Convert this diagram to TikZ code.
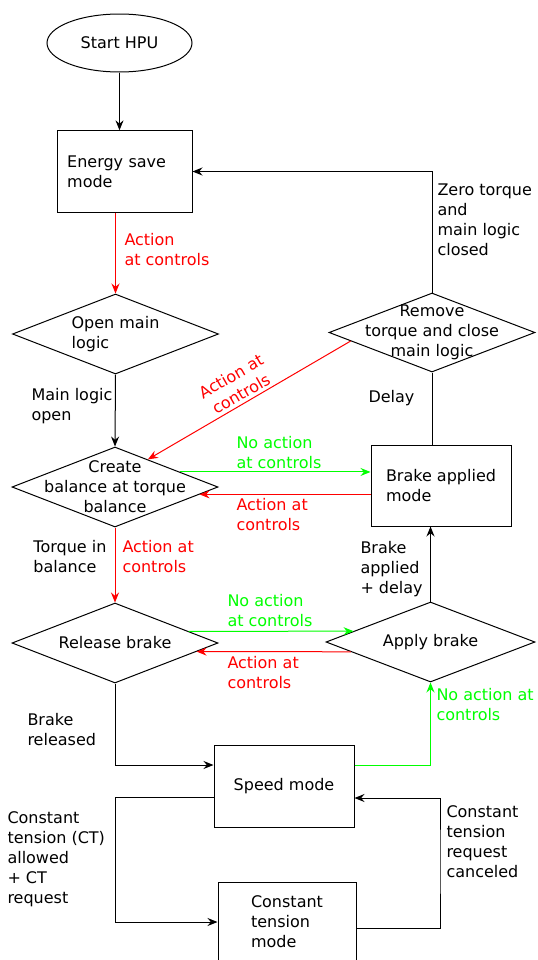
\documentclass[tikz,border=0pt]{standalone}
\usepackage{fontspec}
\setmainfont{DejaVu Sans}
\usetikzlibrary{arrows.meta, shapes.geometric}

\begin{document}
\begin{tikzpicture}[
        x=0.75pt, y=-0.75pt,
        font=\fontsize{12}{15}\selectfont,
        terminal/.style={ellipse, draw, minimum width=108.75pt, minimum height=43.5pt},
        mode/.style={rectangle, draw, align=left, minimum width=105pt, minimum height=61pt},
        decision/.style={diamond, draw, minimum width=154.5pt, minimum height=60pt, inner sep=0pt},
        dtext/.style={align=center, inner sep=0pt},
        note/.style={align=left, anchor=base west, inner sep=0pt},
        arrow/.style={->, >={Stealth[length=7.5pt, width=6pt, inset=2.5pt]}},
        line width=0.75pt
    ]
    \useasboundingbox (0,0) rectangle (537,960);

    % states and decisions
    \node[terminal] (start) at (119.5,43) {Start HPU};
    \node[mode, minimum width=101.25pt, text width=86pt] (energy) at (124.5,171.5) {Energy save\\mode};
    \node[decision] (open) at (115.5,334) {};
    \node[dtext, align=left] (open-t) at (open) {Open main\\logic};
    \node[decision] (create) at (115,487) {};
    \node[dtext] (create-t) at (create) {Create\\balance at torque\\balance};
    \node[decision, minimum height=59.25pt] (remove) at (432,332.5) {};
    \node[dtext] (remove-t) at (remove) {Remove\\torque and close\\main logic};
    \node[mode, minimum height=60.75pt] (brakeapp) at (441,485.5) {Brake applied\\mode};
    \node[decision] (release) at (115,643) {};
    \node[dtext] (release-t) at (release) {Release brake};
    \node[decision, minimum width=156.75pt] (apply) at (430.5,642) {};
    \node[dtext] (apply-t) at (apply) {Apply brake};
    \node[mode, minimum height=61.5pt] (speed) at (284,786) {Speed mode};
    \node[mode, minimum width=103.5pt, minimum height=60pt] (ct) at (287,922) {Constant\\tension\\mode};
    \coordinate (ctback) at (440,860);

    % transitions
    \draw[arrow] (start.south) -- (start.south |- energy.north);
    \draw[arrow, red] (open.north |- energy.south) -- (open.north);
    \draw[arrow] (open.south) -- (create.north);
    \draw[arrow] (remove.north) |- (energy.east);
    \draw (remove.south) -- (remove.south |- brakeapp.north);
    \draw[arrow, red] (remove.186) -- (create.40);
    \draw[arrow, green] (create.13) -- (create.13 -| brakeapp.west);
    \draw[arrow, red] (create.-5 -| brakeapp.west) -- (create.-5);
    \draw[arrow, red] (create.south) -- (release.north);
    \draw[arrow] (apply.north) -- (apply.north |- brakeapp.south);
    \draw[arrow, green] (release.9) -- (apply.172);
    \draw[arrow, red] (apply.187) -- (release.-6);
    \draw[arrow] (release.south) |- ([yshift=15.75pt]speed.west);
    \draw[arrow, green] ([yshift=15.75pt]speed.east) -| (apply.south);
    \draw[arrow] ([yshift=-8.25pt]speed.west) -| (release.south |- ct.west) -- (ct.west);
    \draw[arrow] ([yshift=-4.5pt]ct.east) -| (ctback) |- ([yshift=-9pt]speed.east);

    % transition labels (placed at the baseline of their last line)
    \node[note, red] (act1) at (124,265) {Action\\at controls};
    \node[note] (zero) at (437,255) {Zero torque\\and\\main logic\\closed};
    \node[note] (mainopen) at (31,420) {Main logic\\open};
    \node[note] (delay) at (368,402) {Delay};
    \node[red, align=center, inner sep=0pt, rotate=30] (act2) at (236,385) {Action at\\controls};
    \node[note, green] (noact1) at (236,468) {No action\\at controls};
    \node[note, red] (act3) at (236,530) {Action at\\controls};
    \node[note] (torque) at (33,572) {Torque in\\balance};
    \node[note, red] (act4) at (122,572) {Action at\\controls};
    \node[note] (applied) at (360,593) {Brake\\applied\\+ delay};
    \node[note, green] (noact2) at (227,626) {No action\\at controls};
    \node[note, red] (act5) at (227,688) {Action at\\controls};
    \node[note] (released) at (27,745) {Brake\\released};
    \node[note, green] (noact3) at (436,720) {No action at\\controls};
    \node[note] (ctallowed) at (7,903) {Constant\\tension (CT)\\allowed\\+ CT\\request};
    \node[note] (ctcancel) at (446,877) {Constant\\tension\\request\\canceled};
\end{tikzpicture}
\end{document}
